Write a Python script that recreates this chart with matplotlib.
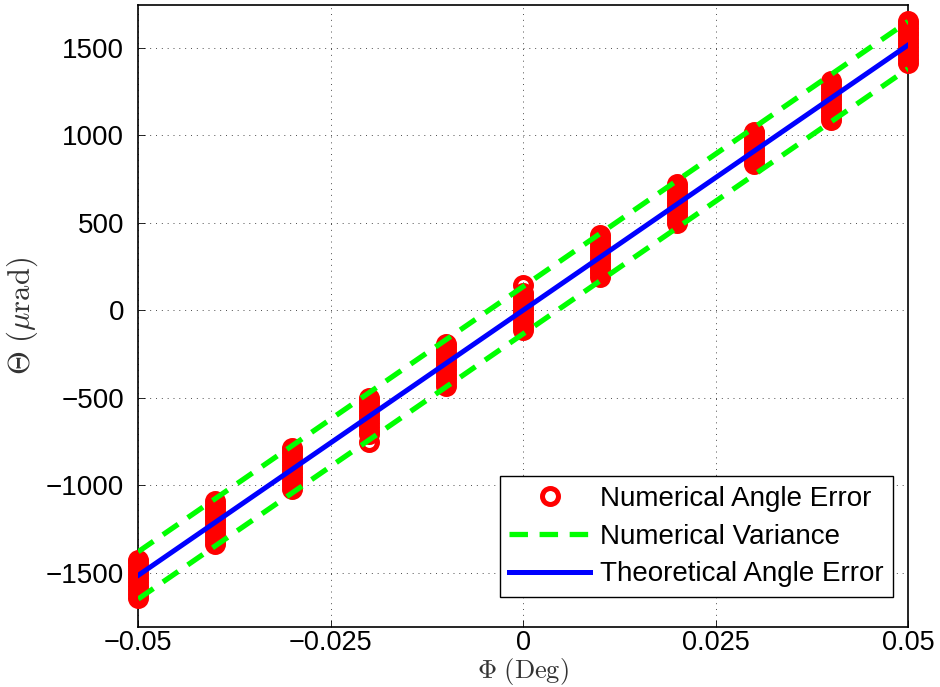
import numpy as np
import matplotlib
matplotlib.use("Agg")
import matplotlib.pyplot as plt

plt.rcParams['font.family'] = ['Liberation Sans', 'DejaVu Sans']
plt.rcParams['mathtext.fontset'] = 'cm'

# tilt angle (deg) of each simulation group
phi = [-0.05, -0.04, -0.03, -0.02, -0.01, 0.0, 0.01, 0.02, 0.03, 0.04, 0.05]

# numerical angle error samples (urad) per group
num_err = [
    [-1643, -1620, -1598, -1575, -1552, -1530, -1508, -1485, -1462, -1440, -1425],
    [-1335, -1312, -1290, -1268, -1245, -1222, -1200, -1178, -1155, -1132, -1110, -1088],
    [-1020, -998, -975, -952, -930, -908, -885, -862, -840, -818, -800, -785],
    [-752, -708, -690, -668, -645, -622, -600, -578, -555, -532, -515, -500],
    [-432, -410, -388, -365, -342, -320, -298, -275, -252, -230, -210, -191],
    [-112, -90, -68, -45, -22, 0, 22, 45, 68, 88, 100, 142],
    [187, 210, 232, 255, 278, 300, 322, 345, 368, 390, 412, 432],
    [500, 522, 545, 568, 590, 612, 635, 658, 680, 702, 723],
    [837, 858, 880, 902, 925, 948, 970, 992, 1010, 1020],
    [1088, 1110, 1132, 1155, 1178, 1200, 1222, 1245, 1268, 1290, 1312],
    [1414, 1436, 1458, 1480, 1502, 1525, 1548, 1570, 1592, 1615, 1635, 1650],
]

# theoretical angle error (urad) at each phi
theory = [-1515, -1212, -909, -606, -303, 0, 303, 606, 909, 1212, 1515]
# numerical variance band (upper/lower)
var_upper = [-1380, -1077, -774, -471, -168, 135, 438, 741, 1044, 1347, 1650]
var_lower = [-1650, -1347, -1044, -741, -438, -135, 168, 471, 774, 1077, 1380]

xtick_vals = [-0.05, -0.025, 0, 0.025, 0.05]
xtick_labels = ['\u22120.05', '\u22120.025', '0', '0.025', '0.05']
ytick_vals = [-1500, -1000, -500, 0, 500, 1000, 1500]

fig = plt.figure(figsize=(9.4, 6.87), dpi=100)
ax = fig.add_axes([0.147, 0.0873, 0.819, 0.9057])

first = True
for x, ys in zip(phi, num_err):
    ax.plot([x] * len(ys), ys, 'o', color='red', markerfacecolor='none',
            markersize=11.5, markeredgewidth=3.6, clip_on=False, zorder=3,
            label='Numerical Angle Error' if first else None)
    first = False

ax.plot(phi, var_upper, '--', color='#00ff00', lw=3.8, dashes=(3.5, 2.2),
        zorder=4, label='Numerical Variance')
ax.plot(phi, var_lower, '--', color='#00ff00', lw=3.8, dashes=(3.5, 2.2), zorder=4)
ax.plot(phi, theory, '-', color='blue', lw=3.6, zorder=5,
        label='Theoretical Angle Error')

ax.set_xlim(-0.05, 0.05)
ax.set_ylim(-1810, 1745)
ax.set_xticks(xtick_vals)
ax.set_xticklabels(xtick_labels)
ax.set_yticks(ytick_vals)
ax.set_yticklabels(['\u2212' + str(-v) if v < 0 else str(v) for v in ytick_vals])
ax.tick_params(direction='in', labelsize=20, length=5, width=0.6)
ax.tick_params(axis='x', pad=2, labelsize=19.5)
ax.tick_params(axis='y', pad=10)
ax.grid(True, linestyle=(0, (1, 5)), color='black', lw=0.7, alpha=0.7)
for s in ax.spines.values():
    s.set_linewidth(1.2)

ax.set_xlabel(r'$\Phi\ (\mathrm{Deg})$', fontsize=19, color='#333333', va='center')
ax.xaxis.set_label_coords(0.5, -0.071)
ax.set_ylabel(r'$\mathbf{\Theta}\ (\mu\mathrm{rad})$', fontsize=22, color='#333333', labelpad=4)

leg = ax.legend(loc='lower right', bbox_to_anchor=(0.9805, 0.048), fontsize=20,
                frameon=True, fancybox=False, edgecolor='black', framealpha=1,
                borderaxespad=0, handlelength=2.9, handletextpad=0.35,
                labelspacing=0.42, borderpad=0.35)
leg.get_frame().set_linewidth(1.0)

fig.savefig('out.png', dpi=100)
